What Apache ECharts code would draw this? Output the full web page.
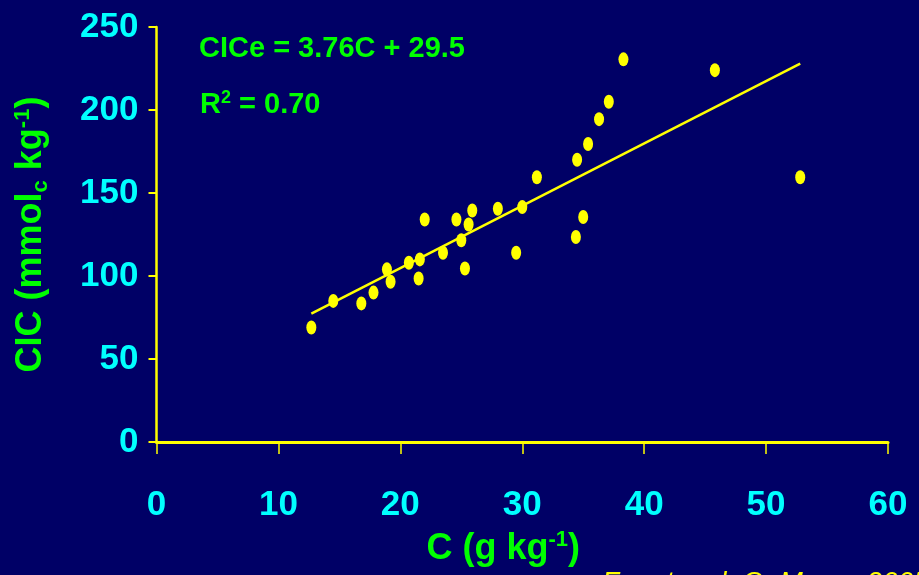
<!DOCTYPE html>
<html>
<head>
<meta charset="utf-8">
<script src="https://cdn.jsdelivr.net/npm/echarts@6/dist/echarts.min.js"></script>
<style>
  html, body { margin: 0; padding: 0; background: #000066; }
  #chart { width: 919px; height: 575px; }
</style>
</head>
<body>
<div id="chart"></div>
<script>
// Carbon (g kg-1) values of each sample
const carbonValues = [12.7, 14.5, 16.8, 17.8, 18.9, 19.2, 20.7, 21.6, 21.5, 22.0,
  23.5, 24.6, 25.0, 25.3, 25.6, 25.9, 28.0, 29.5, 30.0, 31.2,
  34.4, 34.5, 35.0, 35.4, 36.3, 37.1, 38.3, 45.8, 52.8];
// CIC (mmolc kg-1) values of each sample
const cicValues = [69, 85, 83.5, 90, 104, 96.5, 108, 110, 98.5, 134,
  114, 134, 121.5, 104.5, 131, 139.5, 140.5, 114, 141.5, 159.5,
  123.5, 170, 135.5, 179.5, 194.5, 205, 230.5, 224, 159.5];
// Fitted trend line end points
const trendC = [12.7, 52.8];
const trendCIC = [77.3, 228.0];
// Axis ticks
const xTicks = [0, 10, 20, 30, 40, 50, 60];
const yTicks = [0, 50, 100, 150, 200, 250];

const FONT = '"Liberation Sans", Arial, sans-serif';
const GREEN = '#00FF00';
const CYAN = '#00FFFF';
const YELLOW = '#FFFF00';

const chart = echarts.init(document.getElementById('chart'), null, { renderer: 'canvas' });

const scatterData = carbonValues.map((c, i) => [c, cicValues[i]]);
const trendData = trendC.map((c, i) => [c, trendCIC[i]]);

const option = {
  backgroundColor: '#000066',
  animation: false,
  title: [
    {
      text: 'CICe = 3.76C + 29.5',
      left: 194, top: 28,
      textStyle: { color: GREEN, fontSize: 29, fontWeight: 'bold', fontFamily: FONT, lineHeight: 32 }
    },
    {
      text: 'R{sup|2} = 0.70',
      left: 195, top: 84,
      textStyle: {
        color: GREEN, fontSize: 29, fontWeight: 'bold', fontFamily: FONT, lineHeight: 32,
        rich: {
          sup: { color: GREEN, fontSize: 18, fontWeight: 'bold', fontFamily: FONT, verticalAlign: 'top', lineHeight: 18 }
        }
      }
    },
    {
      text: 'Fuente: al. Q. Moura 2005',
      left: 597, top: 564,
      textStyle: { color: YELLOW, fontSize: 28, fontWeight: 'normal', fontStyle: 'italic', fontFamily: FONT, lineHeight: 28 }
    }
  ],
  grid: {
    left: 156.5, right: 31, top: 27, bottom: 133,
    containLabel: false,
    outerBoundsMode: 'none'
  },
  xAxis: {
    type: 'value',
    min: xTicks[0], max: xTicks[xTicks.length - 1], interval: 10,
    name: 'C (g kg{sup|-1})',
    nameLocation: 'middle',
    nameGap: 87,
    nameTextStyle: {
      color: GREEN, fontSize: 36, fontWeight: 'bold', fontFamily: FONT, lineHeight: 40,
      padding: [0, 38, 0, 0],
      rich: {
        sup: { color: GREEN, fontSize: 22, fontWeight: 'bold', fontFamily: FONT, verticalAlign: 'top', lineHeight: 22 }
      }
    },
    axisLine: { show: true, onZero: false, lineStyle: { color: YELLOW, width: 3 } },
    axisTick: { show: true, inside: false, length: 12, lineStyle: { color: YELLOW, width: 1.5 } },
    axisLabel: { color: CYAN, fontSize: 35, fontWeight: 'bold', fontFamily: FONT, margin: 46 },
    splitLine: { show: false }
  },
  yAxis: {
    type: 'value',
    min: yTicks[0], max: yTicks[yTicks.length - 1], interval: 50,
    name: 'CIC (mmol{sub|c} kg{sup|-1})',
    nameLocation: 'middle',
    nameGap: 105,
    nameTextStyle: {
      color: GREEN, fontSize: 36, fontWeight: 'bold', fontFamily: FONT, lineHeight: 40,
      rich: {
        sub: { color: GREEN, fontSize: 22, fontWeight: 'bold', fontFamily: FONT, verticalAlign: 'bottom', lineHeight: 22 },
        sup: { color: GREEN, fontSize: 22, fontWeight: 'bold', fontFamily: FONT, verticalAlign: 'top', lineHeight: 22 }
      }
    },
    axisLine: { show: true, onZero: false, lineStyle: { color: YELLOW, width: 2.5 } },
    axisTick: { show: true, inside: false, length: 8, lineStyle: { color: YELLOW, width: 2 } },
    axisLabel: { color: CYAN, fontSize: 35, fontWeight: 'bold', fontFamily: FONT, margin: 18 },
    splitLine: { show: false }
  },
  series: [
    {
      type: 'line',
      data: trendData,
      showSymbol: false,
      symbol: 'none',
      lineStyle: { color: YELLOW, width: 2.5 },
      z: 2,
      silent: true
    },
    {
      type: 'scatter',
      data: scatterData,
      symbol: 'path://M1,0A1,1,0,1,1,-1,0A1,1,0,1,1,1,0Z',
      symbolSize: [10, 14],
      itemStyle: { color: YELLOW, opacity: 1 },
      z: 3,
      silent: true
    }
  ]
};

chart.setOption(option);
</script>
</body>
</html>
